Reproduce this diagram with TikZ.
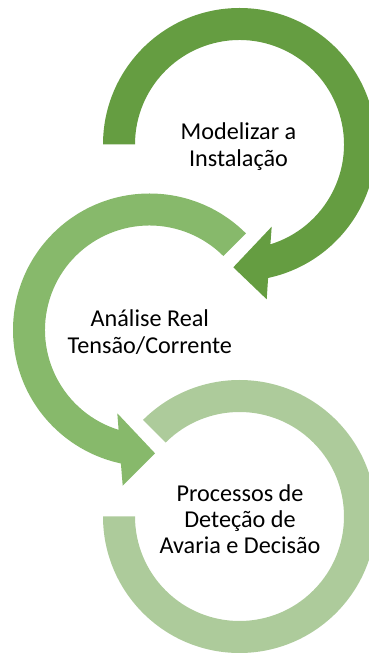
\documentclass[tikz,border=0pt]{standalone}
\usepackage{fontspec}
\setmainfont{Carlito}
\usetikzlibrary{calc}
\definecolor{arcdark}{HTML}{659D41}
\definecolor{arcmid}{HTML}{87B96B}
\definecolor{arclight}{HTML}{ADCB9B}
\begin{document}
\begin{tikzpicture}[x=1pt,y=1pt,
  steptext/.style={align=center, font=\fontsize{24.2}{26.4}\selectfont, inner sep=0pt, text=black}]
\useasboundingbox (0,0) rectangle (369,654);
\coordinate (c1) at (239.5,509.5);
\coordinate (c2) at (149.5,324);
\coordinate (c3) at (239.5,137.5);
\def\Ro{136.5}
\def\Ri{104.5}
% first circular arrow
\fill[arcdark] ($(c1)+(180:\Ro)$) arc[start angle=180,end angle=-77.9,radius=\Ro]
  -- (266.7,354.7) -- (233.3,386.7) -- (271.7,427.3)
  -- ($(c1)+(-72.8:\Ri)$) arc[start angle=-72.8,end angle=180,radius=\Ri] -- cycle;
% second circular arrow
\fill[arcmid] ($(c2)+(45:\Ro)$) arc[start angle=45,end angle=257.9,radius=\Ro]
  -- (122.7,168.3) -- (155,200.7) -- (117.3,240.7)
  -- ($(c2)+(252.8:\Ri)$) arc[start angle=252.8,end angle=45,radius=\Ri] -- cycle;
% third ring
\fill[arclight] ($(c3)+(180:\Ro)$) arc[start angle=180,end angle=495,radius=\Ro]
  -- ($(c3)+(135:\Ri)$) arc[start angle=135,end angle=-180,radius=\Ri] -- cycle;
\node[steptext] (t1) at (238.5,507.5) {Modelizar a\\Instalação};
\node[steptext] (t2) at (149.8,322) {Análise Real\\Tensão/Corrente};
\node[steptext] (t3) at (240,134.8) {Processos de\\Deteção de\\Avaria e Decisão};
\end{tikzpicture}
\end{document}
